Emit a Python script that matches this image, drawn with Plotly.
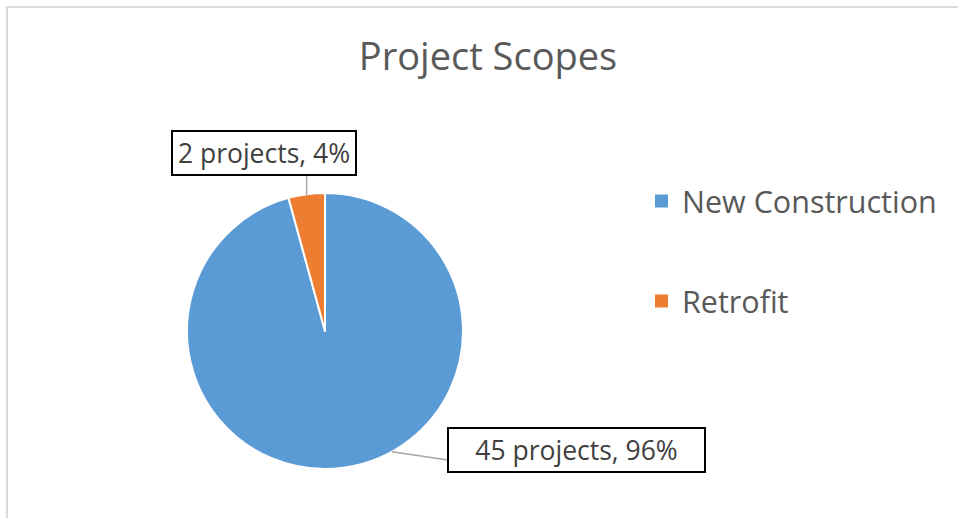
import math
import plotly.graph_objects as go

categories = ["New Construction", "Retrofit"]
projects = [45, 2]
colors = ["#5B9BD5", "#ED7D31"]
title_text = "Project Scopes"

W, H = 958, 518
# pie geometry (pixels)
cx, cy, r = 325, 331, 138

def px(x):
    return x / W

def py(y):
    return 1 - y / H

total = sum(projects)
pcts = [round(v / total * 100) for v in projects]
labels_txt = [f"{v} projects, {p}%" for v, p in zip(projects, pcts)]

fig = go.Figure(go.Pie(
    labels=categories,
    values=projects,
    marker=dict(colors=colors, line=dict(color="white", width=2)),
    sort=False,
    direction="clockwise",
    rotation=0,
    textinfo="none",
    hoverinfo="label+value+percent",
    showlegend=False,
    domain=dict(x=[px(cx - r), px(cx + r)], y=[py(cy + r), py(cy - r)]),
))

shapes = []
annotations = []

# chart border (top and left visible)
shapes.append(dict(type="rect", xref="paper", yref="paper",
                   x0=px(7), x1=px(1100), y0=py(700), y1=py(7),
                   line=dict(color="#D9D9D9", width=2), layer="below"))

# angles (clockwise from 12 o'clock)
cum = 0
mids = []
for v in projects:
    a0 = cum / total * 360
    cum += v
    a1 = cum / total * 360
    mids.append((a0 + a1) / 2)

def arc_pt(angle_deg):
    a = math.radians(angle_deg)
    return cx + r * math.sin(a), cy - r * math.cos(a)

label_font = dict(family="Open Sans, sans-serif", size=26.5, color="#404040")

# Retrofit label (above)
rx, ry = arc_pt(mids[1])
shapes.append(dict(type="line", xref="paper", yref="paper",
                   x0=px(rx), y0=py(ry + 1), x1=px(rx), y1=py(176),
                   line=dict(color="#A6A6A6", width=1.5)))
annotations.append(dict(x=px(264), y=py(152.5), xref="paper", yref="paper",
                        xanchor="center", yanchor="middle",
                        text=labels_txt[1], showarrow=False, font=label_font,
                        bordercolor="black", borderwidth=2, borderpad=3,
                        bgcolor="white", width=176))

# New Construction label (below right)
nx, ny = arc_pt(151)
shapes.append(dict(type="line", xref="paper", yref="paper",
                   x0=px(nx), y0=py(ny), x1=px(448), y1=py(460),
                   line=dict(color="#A6A6A6", width=1.5)))
annotations.append(dict(x=px(576.5), y=py(449.5), xref="paper", yref="paper",
                        xanchor="center", yanchor="middle",
                        text=labels_txt[0], showarrow=False, font=label_font,
                        bordercolor="black", borderwidth=2, borderpad=3,
                        bgcolor="white", width=249))

# legend (manual, to reproduce wide spacing)
leg_y = [201, 301]
for cat, col, yy in zip(categories, colors, leg_y):
    shapes.append(dict(type="rect", xref="paper", yref="paper",
                       x0=px(655), x1=px(668), y0=py(yy + 6.5), y1=py(yy - 6.5),
                       fillcolor=col, line=dict(width=0)))
    annotations.append(dict(x=px(680), y=py(yy), xref="paper", yref="paper",
                            xanchor="left", yanchor="middle", text=cat,
                            showarrow=False,
                            font=dict(family="Open Sans, sans-serif", size=30.5, color="#595959")))

fig.update_layout(
    width=W, height=H,
    margin=dict(l=0, r=0, t=0, b=0),
    paper_bgcolor="white",
    plot_bgcolor="white",
    title=dict(text=title_text, x=px(488), y=py(57), xanchor="center", yanchor="middle",
               font=dict(family="Open Sans, sans-serif", size=38, color="#595959")),
    shapes=shapes,
    annotations=annotations,
)

fig.write_html("out.html", config={"displayModeBar": False},
               post_script="document.body.style.margin='0';document.body.style.overflow='hidden';")
